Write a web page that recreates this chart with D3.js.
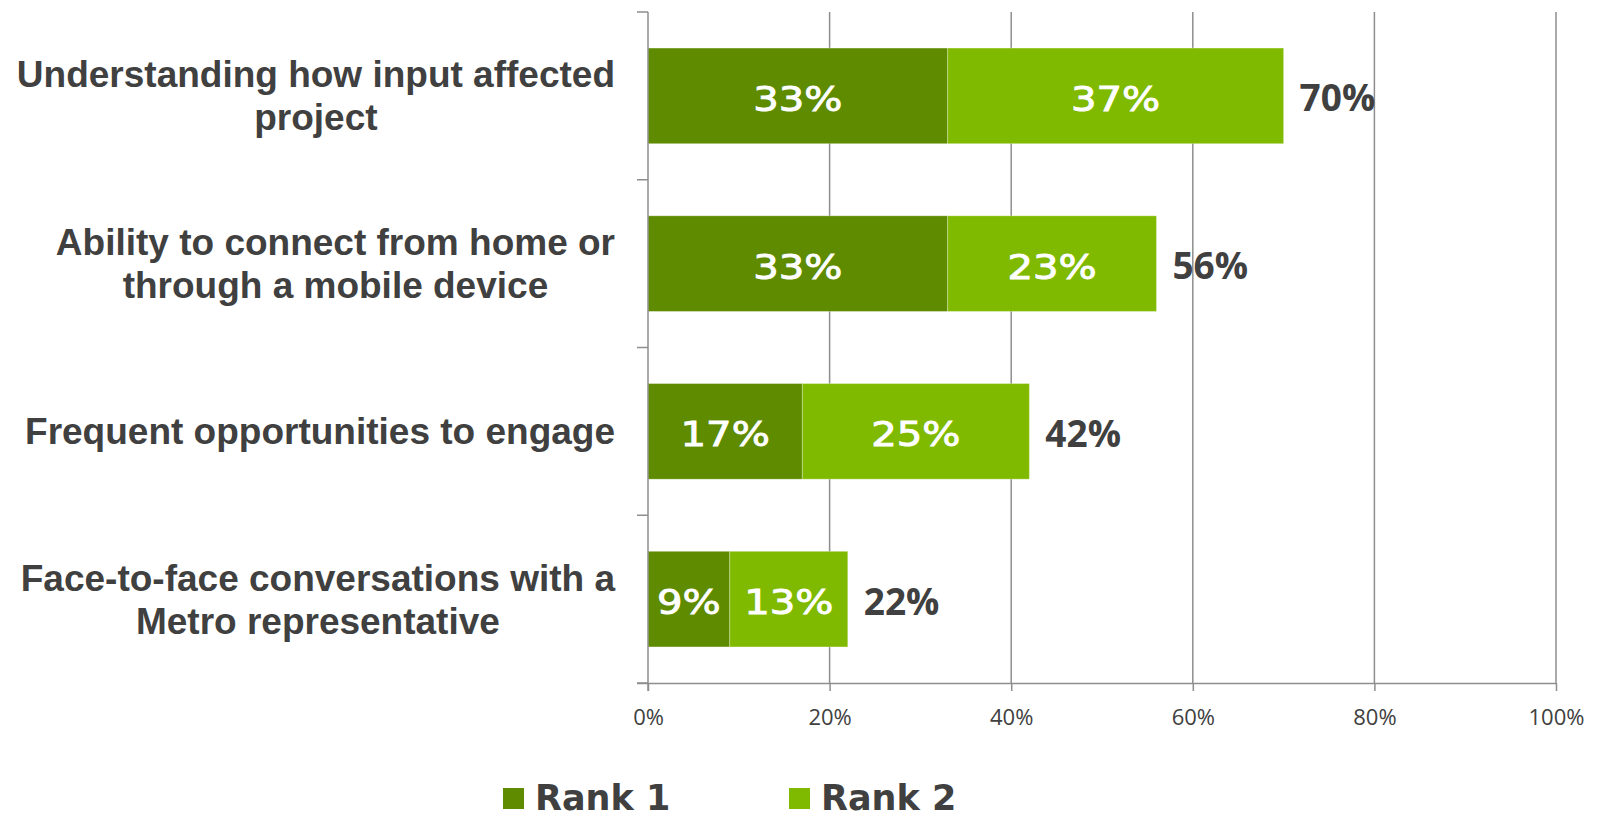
<!DOCTYPE html>
<html>
<head>
<meta charset="utf-8">
<script src="https://cdn.jsdelivr.net/npm/d3@7"></script>
<style>
  html, body { margin: 0; padding: 0; background: #ffffff; }
  svg { display: block; }
</style>
</head>
<body>
<svg id="chart" width="1597" height="819"></svg>
<script>
// Survey items (each label broken into its display lines)
const categories = [
  "Understanding how input affected project",
  "Ability to connect from home or through a mobile device",
  "Frequent opportunities to engage",
  "Face-to-face conversations with a Metro representative"
];
const labelLines = [
  ["Understanding how input affected", "project"],
  ["Ability to connect from home or", "through a mobile device"],
  ["Frequent opportunities to engage"],
  ["Face-to-face conversations with a", "Metro representative"]
];
const rank1 = [33, 33, 17, 9];
const rank2 = [37, 23, 25, 13];
const seriesNames = ["Rank 1", "Rank 2"];
const xTicks = [0, 20, 40, 60, 80, 100];

const colors = { "Rank 1": "#5e8b00", "Rank 2": "#80ba00" };
const textColor = "#404040";
const gridColor = "#8e8e8e";

const rows = categories.map((c, i) => ({
  category: c,
  lines: labelLines[i],
  "Rank 1": rank1[i],
  "Rank 2": rank2[i],
  total: rank1[i] + rank2[i]
}));

const svg = d3.select("#chart");

const x = d3.scaleLinear().domain([0, 100]).range([648, 1556]);
const y = d3.scaleBand()
  .domain(categories)
  .range([12, 683])
  .paddingInner(0.43)
  .paddingOuter(0.215);

// Vertical gridlines at each major tick
svg.append("g")
  .selectAll("line")
  .data(xTicks.filter(t => t > 0))
  .join("line")
  .attr("x1", d => x(d)).attr("x2", d => x(d))
  .attr("y1", 12).attr("y2", 683)
  .attr("stroke", gridColor)
  .attr("stroke-width", 1.5);

// Stacked bars
const stacked = d3.stack().keys(seriesNames)(rows);
const barLayer = svg.append("g");
stacked.forEach(series => {
  barLayer.append("g")
    .selectAll("rect")
    .data(series)
    .join("rect")
    .attr("x", d => x(d[0]))
    .attr("width", d => x(d[1]) - x(d[0]))
    .attr("y", d => y(d.data.category))
    .attr("height", y.bandwidth())
    .attr("fill", colors[series.key])
    .attr("stroke", "rgba(255,255,255,0.28)")
    .attr("stroke-width", 1);
});

// Segment value labels (white, centred in each segment)
stacked.forEach(series => {
  barLayer.append("g")
    .selectAll("g")
    .data(series)
    .join("g")
    .attr("transform", d => {
      const cx = (x(d[0]) + x(d[1])) / 2;
      const cy = y(d.data.category) + y.bandwidth() / 2 + 15;
      return `translate(${cx},${cy}) scale(1.18,1)`;
    })
    .append("text")
    .attr("text-anchor", "middle")
    .attr("font-family", "'DejaVu Sans', Verdana, sans-serif")
    .attr("font-size", 34)
    .attr("fill", "#ffffff")
    .attr("stroke", "#ffffff")
    .attr("stroke-width", 0.9)
    .text(d => `${d[1] - d[0]}%`);
});

// Totals at the end of each bar
svg.append("g")
  .selectAll("text")
  .data(rows)
  .join("text")
  .attr("x", d => x(d.total) + 16)
  .attr("y", d => y(d.category) + y.bandwidth() / 2 + 15.5)
  .attr("font-family", "'Open Sans', sans-serif")
  .attr("font-weight", 700)
  .attr("font-size", 37)
  .attr("fill", textColor)
  .text(d => `${d.total}%`);

// Y axis line with category boundary ticks
const yAxis = svg.append("g");
yAxis.append("line")
  .attr("x1", x(0)).attr("x2", x(0))
  .attr("y1", 12).attr("y2", 691)
  .attr("stroke", gridColor).attr("stroke-width", 1.5);
const bounds = categories.map(c => y(c) - y.step() * y.paddingInner() / 2)
  .concat([683]);
yAxis.selectAll("line.tick")
  .data(bounds)
  .join("line")
  .attr("class", "tick")
  .attr("x1", x(0) - 11).attr("x2", x(0))
  .attr("y1", d => d).attr("y2", d => d)
  .attr("stroke", gridColor).attr("stroke-width", 1.5);

// X axis
const xAxis = d3.axisBottom(x)
  .tickValues(xTicks)
  .tickFormat(d => `${d}%`)
  .tickSize(8)
  .tickPadding(12)
  .tickSizeOuter(0);
const xg = svg.append("g")
  .attr("transform", "translate(0,683)")
  .call(xAxis);
xg.select(".domain")
  .attr("d", `M${x(0) - 11},0.5H${x(100)}`)
  .attr("stroke", gridColor).attr("stroke-width", 1.5);
xg.selectAll(".tick line").attr("stroke", gridColor).attr("stroke-width", 1.5);
xg.selectAll(".tick text")
  .attr("font-family", "'Open Sans', sans-serif")
  .attr("font-size", 22)
  .attr("fill", textColor)
  .attr("dy", null)
  .attr("y", 42);

// Category labels: lines centred on each other, block right-aligned to the axis
const labelRight = 615;
const lineGap = 43;
const capH = 26;
const labelGroups = svg.append("g")
  .selectAll("g")
  .data(rows)
  .join("g");
labelGroups.each(function(d) {
  const g = d3.select(this);
  const cy = y(d.category) + y.bandwidth() / 2;
  const n = d.lines.length;
  const firstBase = cy - ((n - 1) * lineGap + capH) / 2 + capH;
  const texts = g.selectAll("text")
    .data(d.lines)
    .join("text")
    .attr("text-anchor", "middle")
    .attr("font-family", "'Liberation Sans', Arial, sans-serif")
    .attr("font-weight", 700)
    .attr("font-size", 37)
    .attr("fill", textColor)
    .attr("y", (t, i) => i * lineGap)
    .text(t => t);
  let maxW = 0;
  texts.each(function() { maxW = Math.max(maxW, this.getComputedTextLength()); });
  texts.attr("x", -maxW / 2);
  g.attr("transform", `translate(${labelRight},${firstBase})`);
});

// Legend along the bottom edge
const legend = svg.append("g");
const legendX = [503, 789];
seriesNames.forEach((name, i) => {
  legend.append("rect")
    .attr("x", legendX[i]).attr("y", 788)
    .attr("width", 21).attr("height", 21)
    .attr("fill", colors[name]);
  legend.append("text")
    .attr("x", legendX[i] + 32)
    .attr("y", 810)
    .attr("font-family", "'DejaVu Sans', Verdana, sans-serif")
    .attr("font-weight", 700)
    .attr("font-size", 35)
    .attr("fill", textColor)
    .text(name);
});
</script>
</body>
</html>
